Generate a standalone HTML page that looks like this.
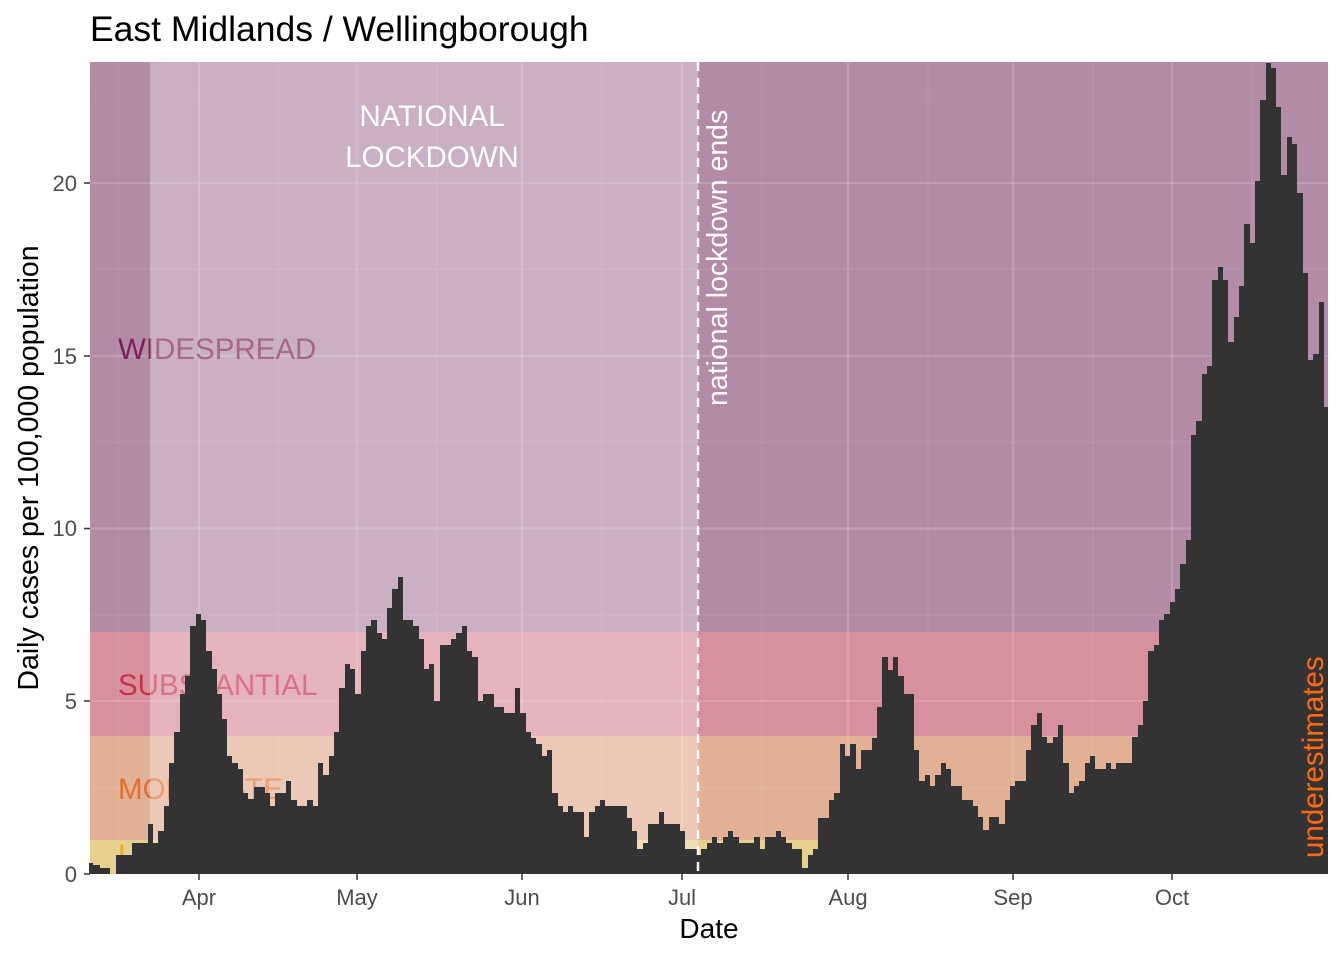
<!DOCTYPE html>
<html><head><meta charset="utf-8"><style>
html,body{margin:0;padding:0;background:#fff;}
svg{display:block;font-family:"Liberation Sans",Arial,sans-serif;}
</style></head><body>
<svg width="1344" height="960" viewBox="0 0 1344 960" xmlns="http://www.w3.org/2000/svg">
<rect width="1344" height="960" fill="#fff"/>
<rect x="90" y="62" width="1238" height="570" fill="#b38ba7"/>
<rect x="90" y="632" width="1238" height="104" fill="#d8909c"/>
<rect x="90" y="736" width="1238" height="104" fill="#e2b094"/>
<rect x="90" y="840" width="1238" height="34" fill="#e6d08e"/>
<g stroke="#ffffff" stroke-opacity="0.08" stroke-width="1.2">
<line x1="90" x2="1328" y1="787.6" y2="787.6"/><line x1="90" x2="1328" y1="615" y2="615"/><line x1="90" x2="1328" y1="442" y2="442"/><line x1="90" x2="1328" y1="269" y2="269"/><line x1="90" x2="1328" y1="96" y2="96"/>
<line x1="118" x2="118" y1="62" y2="874"/><line x1="278" x2="278" y1="62" y2="874"/><line x1="437" x2="437" y1="62" y2="874"/><line x1="602" x2="602" y1="62" y2="874"/><line x1="762" x2="762" y1="62" y2="874"/><line x1="928" x2="928" y1="62" y2="874"/><line x1="1093" x2="1093" y1="62" y2="874"/><line x1="1252" x2="1252" y1="62" y2="874"/>
</g>
<g stroke="#ffffff" stroke-opacity="0.15" stroke-width="2.2">
<line x1="90" x2="1328" y1="874" y2="874"/><line x1="90" x2="1328" y1="701" y2="701"/><line x1="90" x2="1328" y1="528.5" y2="528.5"/><line x1="90" x2="1328" y1="356" y2="356"/><line x1="90" x2="1328" y1="183" y2="183"/>
<line x1="199" x2="199" y1="62" y2="874"/><line x1="357" x2="357" y1="62" y2="874"/><line x1="522" x2="522" y1="62" y2="874"/><line x1="682" x2="682" y1="62" y2="874"/><line x1="848" x2="848" y1="62" y2="874"/><line x1="1013" x2="1013" y1="62" y2="874"/><line x1="1172" x2="1172" y1="62" y2="874"/>
</g>
<g font-size="29.5">
<text x="118" y="359" fill="#7d1f5a">WIDESPREAD</text>
<text x="118" y="695" fill="#c8304d">SUBSTANTIAL</text>
<text x="118" y="799" fill="#e07030">MODERATE</text>
<text x="118" y="865" fill="#e8b020">LOW</text>
</g>
<rect x="150" y="62" width="548" height="812" fill="#ffffff" fill-opacity="0.32"/>
<path fill="#333333" d="M89,874 V863 H93 V865 H100 V868 H110 V874 H116 V855 H132 V843 H148 V824 H153 V843 H158 V831 H164 V806 H169 V763 H174 V732 H180 V694 H185 V676 H190 V626 H196 V614 H201 V620 H206 V651 H212 V669 H217 V694 H222 V719 H227 V756 H232 V763 H238 V769 H243 V793 H248 V799 H254 V787 H265 V793 H270 V806 H275 V793 H286 V781 H291 V800 H297 V806 H307 V800 H313 V806 H318 V763 H323 V775 H329 V756 H334 V732 H339 V688 H345 V664 H350 V669 H355 V694 H361 V651 H366 V626 H371 V620 H377 V633 H382 V639 H387 V608 H392 V589 H398 V577 H403 V620 H413 V626 H419 V639 H424 V669 H429 V664 H434 V701 H440 V645 H451 V639 H456 V633 H462 V626 H467 V651 H472 V657 H478 V701 H483 V694 H494 V707 H504 V713 H515 V688 H520 V713 H526 V732 H531 V738 H536 V744 H542 V756 H547 V750 H552 V793 H558 V806 H563 V812 H568 V806 H573 V812 H584 V837 H589 V812 H595 V806 H600 V800 H605 V806 H627 V818 H632 V831 H637 V849 H643 V843 H648 V824 H659 V812 H664 V824 H680 V831 H685 V849 H697 V855 H701 V849 H707 V843 H712 V837 H717 V843 H723 V837 H728 V831 H733 V837 H739 V843 H754 V837 H760 V849 H765 V837 H776 V831 H781 V837 H786 V843 H792 V849 H802 V868 H808 V855 H813 V849 H818 V818 H829 V800 H834 V793 H840 V744 H845 V756 H850 V744 H856 V769 H861 V750 H872 V738 H877 V707 H882 V657 H888 V670 H893 V657 H898 V676 H904 V694 H914 V750 H919 V781 H925 V775 H930 V786 H935 V775 H941 V763 H946 V769 H951 V786 H962 V800 H973 V806 H978 V817 H983 V830 H989 V817 H999 V824 H1005 V800 H1010 V786 H1015 V781 H1026 V750 H1031 V725 H1037 V713 H1042 V737 H1047 V743 H1053 V737 H1058 V725 H1063 V763 H1069 V793 H1074 V786 H1079 V781 H1085 V763 H1090 V756 H1095 V769 H1106 V763 H1111 V769 H1116 V763 H1132 V737 H1138 V725 H1143 V701 H1148 V651 H1154 V645 H1159 V620 H1164 V614 H1170 V602 H1175 V589 H1180 V564 H1186 V540 H1191 V435 H1196 V421 H1202 V374 H1207 V366 H1212 V280 H1218 V267 H1223 V280 H1228 V342 H1234 V317 H1239 V286 H1244 V224 H1250 V243 H1255 V181 H1260 V100 H1266 V63 H1271 V68 H1276 V107 H1281 V175 H1287 V137 H1292 V144 H1297 V193 H1303 V273 H1308 V360 H1313 V354 H1319 V302 H1324 V407 H1328 V874 Z"/>
<line x1="698" x2="698" y1="62" y2="874" stroke="#fff" stroke-width="2.5" stroke-dasharray="9,7"/>
<text x="0" y="0" transform="translate(727,406) rotate(-90)" fill="#fff" font-size="28.5">national lockdown ends</text>
<text x="432" y="126" fill="#fff" font-size="29.5" text-anchor="middle">NATIONAL</text>
<text x="432" y="167" fill="#fff" font-size="29.5" text-anchor="middle">LOCKDOWN</text>
<text x="0" y="0" transform="translate(1323,858) rotate(-90)" fill="#ff6a10" font-size="29.5">underestimates</text>
<g stroke="#333" stroke-width="1.5">
<line x1="84" x2="90" y1="874" y2="874"/><line x1="84" x2="90" y1="701" y2="701"/><line x1="84" x2="90" y1="528.5" y2="528.5"/><line x1="84" x2="90" y1="356" y2="356"/><line x1="84" x2="90" y1="183" y2="183"/>
<line x1="199" x2="199" y1="874" y2="880"/><line x1="357" x2="357" y1="874" y2="880"/><line x1="522" x2="522" y1="874" y2="880"/><line x1="682" x2="682" y1="874" y2="880"/><line x1="848" x2="848" y1="874" y2="880"/><line x1="1013" x2="1013" y1="874" y2="880"/><line x1="1172" x2="1172" y1="874" y2="880"/>
</g>
<g fill="#4d4d4d" font-size="22" text-anchor="end">
<text x="77" y="882">0</text><text x="77" y="709">5</text><text x="77" y="536">10</text><text x="77" y="364">15</text><text x="77" y="191">20</text>
</g>
<g fill="#4d4d4d" font-size="22" text-anchor="middle">
<text x="199" y="905">Apr</text><text x="357" y="905">May</text><text x="522" y="905">Jun</text><text x="682" y="905">Jul</text><text x="848" y="905">Aug</text><text x="1013" y="905">Sep</text><text x="1172" y="905">Oct</text>
</g>
<text x="709" y="938" font-size="28" text-anchor="middle" fill="#000">Date</text>
<text x="0" y="0" transform="translate(38,468) rotate(-90)" font-size="28.5" text-anchor="middle" fill="#000">Daily cases per 100,000 population</text>
<text x="90" y="41" font-size="35.5" fill="#000">East Midlands / Wellingborough</text>
</svg>
</body></html>
